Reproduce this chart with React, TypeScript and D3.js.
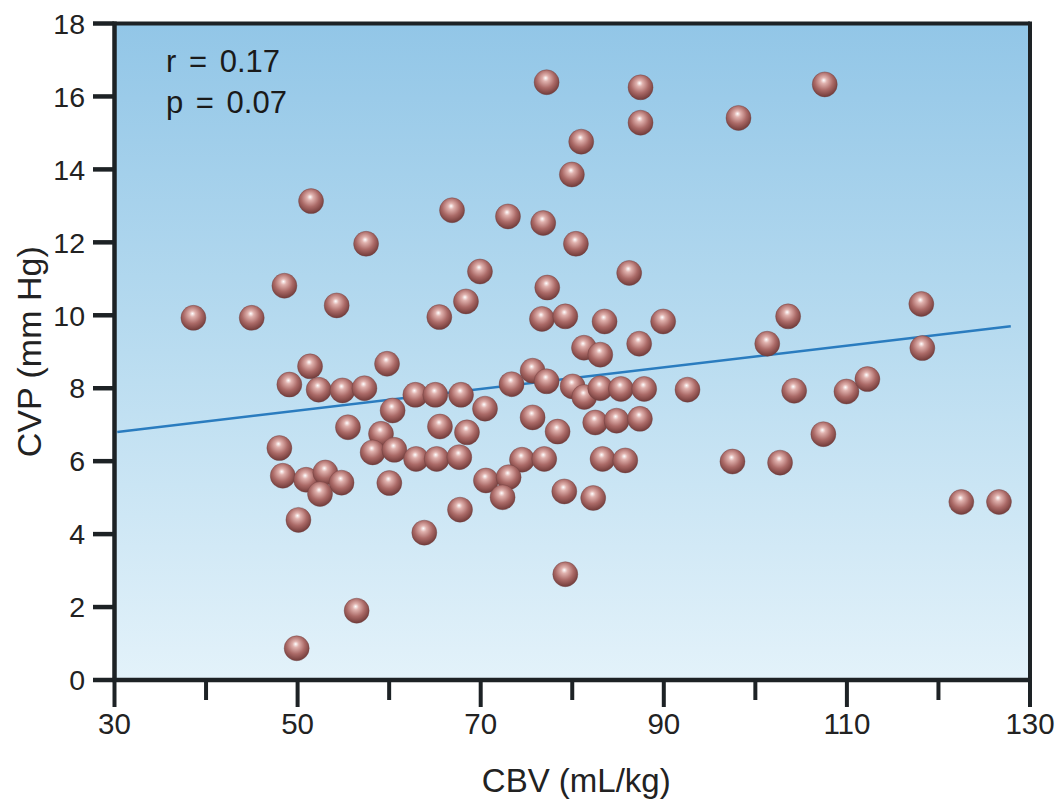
import React from 'react';
import * as d3 from 'd3';

// CBV (mL/kg) and CVP (mm Hg) for each subject
const cbv = [
  51.47, 57.48, 48.56, 54.27, 38.62, 44.99, 77.2, 87.46, 87.46, 80.98,
  79.96, 66.87, 72.98, 76.83, 80.4, 69.92, 86.22, 68.39, 65.48, 77.27,
  76.69, 79.24, 83.53, 89.93, 87.31, 81.28, 83.06, 59.77, 75.67, 107.58,
  98.16, 118.13, 103.58, 101.3, 118.24, 51.36, 49.1, 52.3, 54.9, 57.3,
  60.38, 62.86, 65.04, 67.85, 70.47, 73.37, 77.2, 80.04, 81.31, 83.06,
  85.31, 87.86, 92.59, 55.5, 59.11, 58.2, 60.57, 62.94, 65.19, 67.66,
  65.55, 68.5, 75.67, 78.4, 82.51, 84.84, 87.39, 74.51, 76.94, 83.31,
  85.79, 48.01, 48.38, 50.93, 53.03, 54.8, 52.45, 50.09, 60.02, 70.57,
  73.05, 72.39, 79.13, 82.29, 67.74, 63.84, 79.24, 56.45, 49.9, 104.24,
  109.95, 112.24, 107.43, 97.5, 102.7, 122.5, 126.61,
];
const cvp = [
  13.13, 11.96, 10.81, 10.27, 9.93, 9.93, 16.39, 16.25, 15.28, 14.76,
  13.86, 12.88, 12.71, 12.53, 11.96, 11.2, 11.16, 10.38, 9.95, 10.76,
  9.9, 9.97, 9.83, 9.83, 9.22, 9.11, 8.92, 8.67, 8.48, 16.33,
  15.41, 10.31, 9.97, 9.22, 9.1, 8.6, 8.1, 7.96, 7.94, 8.0,
  7.39, 7.82, 7.82, 7.82, 7.44, 8.11, 8.19, 8.05, 7.76, 8.0,
  7.98, 7.98, 7.96, 6.93, 6.75, 6.24, 6.31, 6.06, 6.06, 6.11,
  6.95, 6.79, 7.2, 6.81, 7.06, 7.11, 7.16, 6.04, 6.06, 6.06,
  6.02, 6.36, 5.6, 5.49, 5.69, 5.41, 5.1, 4.39, 5.4, 5.47,
  5.56, 5.01, 5.17, 4.99, 4.67, 4.04, 2.9, 1.9, 0.87, 7.93,
  7.91, 8.25, 6.74, 5.99, 5.96, 4.88, 4.88,
];

const yTicks = [0, 2, 4, 6, 8, 10, 12, 14, 16, 18];
const xMajorTicks = [30, 50, 70, 90, 110, 130];
const xMinorTicks = [40, 60, 80, 100, 120];
const fitX = [30.3, 127.9];
const fitY = [6.8, 9.7];
const statLabels = ['r = 0.17', 'p = 0.07'];
const xTitle = 'CBV (mL/kg)';
const yTitle = 'CVP (mm Hg)';

export default function App() {
  const W = 1058;
  const H = 800;
  const x = d3.scaleLinear().domain([30, 130]).range([114.5, 1030]);
  const y = d3.scaleLinear().domain([0, 18]).range([680, 23.5]);
  const fitPts: [number, number][] = fitX.map((v, i) => [v, fitY[i]]);
  const line = d3
    .line<[number, number]>()
    .x((d) => x(d[0]))
    .y((d) => y(d[1]));
  const font = '"Liberation Sans", Arial, Helvetica, sans-serif';
  const ink = '#1d2225';
  const x0 = x(30);
  const x1 = x(130);
  const y0 = y(0);
  const y1 = y(18);

  return (
    <svg
      width={W}
      height={H}
      viewBox={`0 0 ${W} ${H}`}
      style={{ position: 'absolute', left: 0, top: 0, background: '#fff' }}
    >
      <defs>
        <linearGradient id="bg" x1="0" y1="0" x2="0" y2="1">
          <stop offset="0%" stopColor="#92c6e7" />
          <stop offset="50%" stopColor="#b9dcf0" />
          <stop offset="100%" stopColor="#e3f2fa" />
        </linearGradient>
        <radialGradient id="ball" cx="47%" cy="40%" r="62%" fx="46%" fy="33%">
          <stop offset="0%" stopColor="#ffffff" />
          <stop offset="20%" stopColor="#e0b2ae" />
          <stop offset="58%" stopColor="#ab6a67" />
          <stop offset="88%" stopColor="#7f4644" />
          <stop offset="100%" stopColor="#6a3837" />
        </radialGradient>
      </defs>

      <rect x={x0} y={y1} width={x1 - x0} height={y0 - y1} fill="url(#bg)" />

      {/* regression line */}
      <path d={line(fitPts) || ''} fill="none" stroke="#2a7cbf" strokeWidth={2.5} />

      {/* data points */}
      <g>
        {cbv.map((v, i) => (
          <circle
            key={i}
            cx={x(v)}
            cy={y(cvp[i])}
            r={12.5}
            fill="url(#ball)"
            stroke="#6f3f3e"
            strokeOpacity={0.5}
            strokeWidth={0.8}
          />
        ))}
      </g>

      {/* frame */}
      <line x1={x0} y1={y1} x2={x1} y2={y1} stroke={ink} strokeWidth={4} />
      <line x1={x1} y1={y1 - 2} x2={x1} y2={y0} stroke={ink} strokeWidth={4} />
      <line x1={x0} y1={y1 - 2} x2={x0} y2={y0 + 2} stroke={ink} strokeWidth={4.5} />
      <line x1={x0 - 2} y1={y0} x2={x1 + 2} y2={y0} stroke={ink} strokeWidth={4.5} />

      {/* y ticks */}
      {yTicks.map((t) => (
        <g key={'y' + t}>
          <line x1={93} x2={x0} y1={y(t)} y2={y(t)} stroke={ink} strokeWidth={4.5} />
          <text
            x={85}
            y={y(t)}
            dy="0.36em"
            textAnchor="end"
            fontFamily={font}
            fontSize={28.5}
            fill="#222"
          >
            {t}
          </text>
        </g>
      ))}

      {/* x ticks */}
      {xMinorTicks.map((t) => (
        <line key={'xm' + t} x1={x(t)} x2={x(t)} y1={y0} y2={700} stroke={ink} strokeWidth={4} />
      ))}
      {xMajorTicks.map((t) => (
        <g key={'x' + t}>
          <line x1={x(t)} x2={x(t)} y1={y0} y2={707} stroke={ink} strokeWidth={4} />
          <text
            x={x(t)}
            y={734}
            textAnchor="middle"
            fontFamily={font}
            fontSize={29.5}
            fill="#222"
          >
            {t}
          </text>
        </g>
      ))}

      {/* stats */}
      {statLabels.map((s, i) => (
        <text
          key={s}
          x={166}
          y={72 + i * 41}
          fontFamily={font}
          fontSize={31}
          wordSpacing={4}
          fill="#1a1a1a"
          style={{ whiteSpace: 'pre' }}
        >
          {s}
        </text>
      ))}

      {/* axis titles */}
      <text
        x={(x0 + x1) / 2 + 4}
        y={792}
        textAnchor="middle"
        fontFamily={font}
        fontSize={33}
        fill="#222"
      >
        {xTitle}
      </text>
      <text
        transform={`translate(41, ${(y0 + y1) / 2}) rotate(-90)`}
        textAnchor="middle"
        fontFamily={font}
        fontSize={34}
        fill="#222"
      >
        {yTitle}
      </text>
    </svg>
  );
}
